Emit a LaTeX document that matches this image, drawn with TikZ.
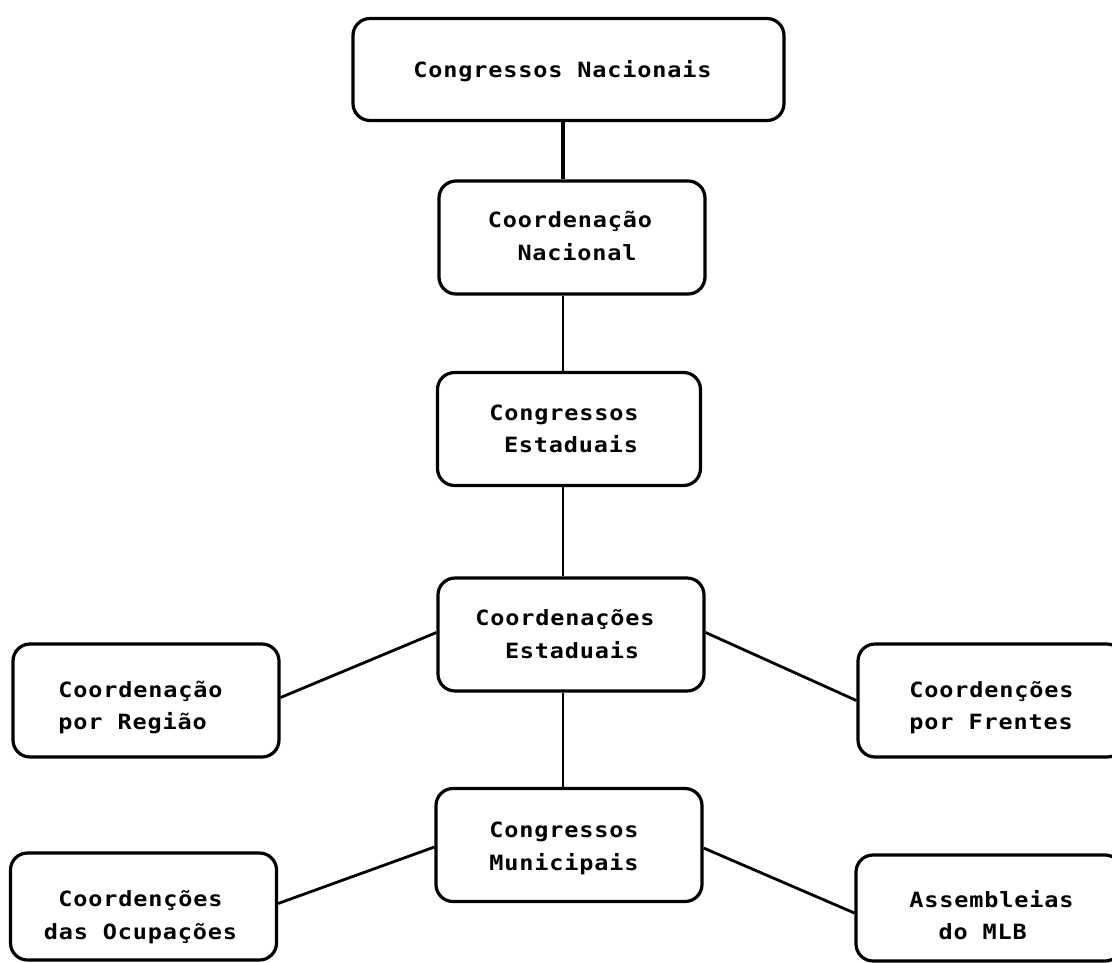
\documentclass[tikz,border=0pt]{standalone}
\usepackage{fontspec}
\newfontfamily\boxfont[FakeStretch=1.12,LetterSpace=4]{DejaVu Sans Mono}
% two centred (or left-aligned) lines whose baseline is the first line's
\newcommand{\twolines}[3][c]{\begin{tabular}[t]{@{}#1@{}}#2\\#3\end{tabular}}
\begin{document}
\begin{tikzpicture}[x=1pt,y=-1pt,
  box/.style={draw, line width=3.2pt, rounded corners=17pt, inner sep=0pt,
    minimum width=266pt, minimum height=113pt},
  txt/.style={anchor=base, inner sep=0pt,
    font=\boxfont\bfseries\fontsize{21pt}{32.5pt}\selectfont},
  link/.style={line width=2.8pt},
  thicklink/.style={line width=4pt}]
\clip (0,0) rectangle (1112,962);
\fill[white] (0,0) rectangle (1112,962);

% central column
\node[box, minimum width=431pt, minimum height=102pt] (cn) at (568.5,69.5) {};
\node[box] (cordn) at (572,237.5) {};
\node[box, minimum width=263pt] (ce) at (569,429) {};
\node[box] (corde) at (571,634.5) {};
\node[box] (cm) at (569,845) {};

% side boxes
\node[box] (reg) at (146,700.5) {};
\node[box, minimum height=107pt] (ocup) at (143.5,906.5) {};
\node[box] (fren) at (991,700.5) {};
\node[box, minimum height=106pt] (mlb) at (989,908) {};

% box texts
\node[txt] (cn-t) at (562.5,77) {Congressos Nacionais};
\node[txt] (cordn-t) at (570,227.5) {\twolines{Coordenação}{\phantom{C}Nacional}};
\node[txt] (ce-t) at (564,420) {\twolines{Congressos}{\phantom{C}Estaduais}};
\node[txt] (corde-t) at (565,625.5) {\twolines{Coordenações}{\phantom{C}Estaduais}};
\node[txt] (cm-t) at (564,837.5) {\twolines{Congressos}{Municipais}};
\node[txt] (reg-t) at (140.5,697) {\twolines[l]{Coordenação}{por Região}};
\node[txt] (ocup-t) at (140.5,906.5) {\twolines{Coordenções}{das Ocupações}};
\node[txt] (fren-t) at (991.5,697) {\twolines[l]{Coordenções}{por Frentes}};
\node[txt] (mlb-t) at (991.5,907) {\twolines[l]{Assembleias}{\phantom{CC}do MLB}};

% connectors
\draw[thicklink] ([xshift=-5.5pt]cn.south) -- ([xshift=-9pt]cordn.north);
\draw[link] ([xshift=-9pt]cordn.south) -- ([xshift=-6pt]ce.north);
\draw[link] ([xshift=-6pt]ce.south) -- ([xshift=-8pt]corde.north);
\draw[link] ([xshift=-8pt]corde.south) -- ([xshift=-6pt]cm.north);
\draw[link] ([yshift=3pt]reg.east) -- ([yshift=2pt]corde.west);
\draw[link] ([yshift=3pt]ocup.east) -- ([yshift=-2pt]cm.west);
\draw[link] ([yshift=2pt]corde.east) -- (fren.west);
\draw[link] ([yshift=-3pt]cm.east) -- ([yshift=-5pt]mlb.west);
\end{tikzpicture}
\end{document}
